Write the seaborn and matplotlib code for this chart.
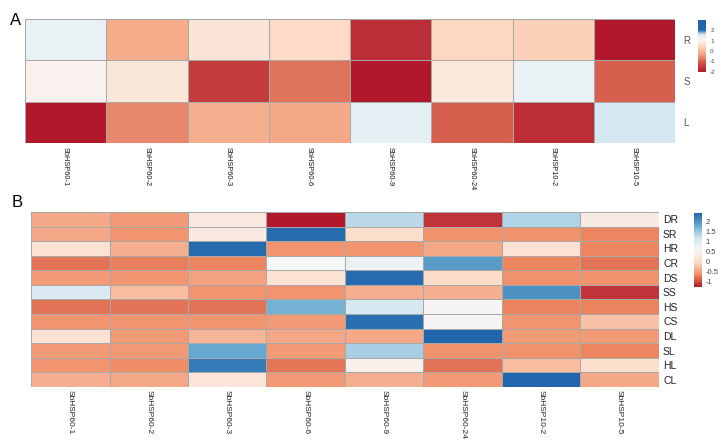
import numpy as np
import pandas as pd
import matplotlib
matplotlib.use("Agg")
import matplotlib.pyplot as plt
import seaborn as sns
from matplotlib.colors import LinearSegmentedColormap

genes = ["SbHSP60-1", "SbHSP60-2", "SbHSP60-3", "SbHSP60-6",
         "SbHSP60-9", "SbHSP60-24", "SbHSP10-2", "SbHSP10-5"]

# Panel A: tissues
tissues = ["R", "S", "L"]
val_R = [1.3, -0.2, 0.7, 0.5, -1.7, 0.45, 0.35, -2.0]
val_S = [1.0, 0.75, -1.5, -0.8, -2.0, 0.8, 1.3, -1.0]
val_L = [-2.0, -0.6, -0.15, -0.25, 1.35, -1.0, -1.7, 1.55]

# Panel B: stress x tissue
treatments = ["DR", "SR", "HR", "CR", "DS", "SS", "HS", "CS", "DL", "SL", "HL", "CL"]
val_DR = [-0.45, -0.55, 0.25, -1.3, 1.3, -1.15, 1.35, 0.3]
val_SR = [-0.45, -0.6, 0.25, 2.35, 0.0, -0.62, -0.62, -0.7]
val_HR = [0.1, -0.4, 2.35, -0.6, -0.6, -0.45, 0.1, -0.7]
val_CR = [-0.8, -0.75, -0.7, 0.6, 0.75, 1.9, -0.7, -0.8]
val_DS = [-0.55, -0.58, -0.5, 0.1, 2.35, -0.05, -0.62, -0.62]
val_SS = [1.0, -0.3, -0.6, -0.6, -0.4, -0.4, 2.0, -1.15]
val_HS = [-0.8, -0.8, -0.8, 1.7, 1.05, 0.5, -0.72, -0.72]
val_CS = [-0.6, -0.6, -0.6, -0.55, 2.3, 0.5, -0.6, -0.25]
val_DL = [0.1, -0.55, -0.35, -0.45, -0.45, 2.4, -0.55, -0.55]
val_SL = [-0.55, -0.55, 1.78, -0.55, 1.4, -0.62, -0.62, -0.7]
val_HL = [-0.6, -0.65, 2.2, -0.78, 0.4, -0.8, -0.3, 0.0]
val_CL = [-0.4, -0.45, 0.15, -0.55, -0.4, -0.55, 2.4, -0.45]

df_a = pd.DataFrame([val_R, val_S, val_L], index=tissues, columns=genes)
df_b = pd.DataFrame([val_DR, val_SR, val_HR, val_CR, val_DS, val_SS, val_HS,
                     val_CS, val_DL, val_SL, val_HL, val_CL],
                    index=treatments, columns=genes)

rdbu7 = ["#B2182B", "#EF8A62", "#FDDBC7", "#F7F7F7", "#D1E5F0", "#67A9CF", "#2166AC"]

# panel A colour bar is skewed towards red
a_min, a_max = -2.0, 2.95
a_nodes = [(-2.0, "#B2182B"), (-1.0, "#D6604D"), (-0.3, "#F4A582"), (0.5, "#FDDBC7"),
           (1.15, "#F7F7F7"), (1.6, "#D1E5F0"), (2.0, "#2166AC"), (2.95, "#2166AC")]
cmap_a = LinearSegmentedColormap.from_list(
    "a", [((v - a_min) / (a_max - a_min), c) for v, c in a_nodes])
cmap_b = LinearSegmentedColormap.from_list("b", rdbu7)

plt.rcParams["font.family"] = ["Liberation Sans", "DejaVu Sans"]

fig = plt.figure(figsize=(7.25, 4.4), dpi=100)

ax_a = fig.add_axes([0.0345, 0.675, 0.8966, 0.2818])
cax_a = fig.add_axes([0.9628, 0.8364, 0.011, 0.118])
ax_b = fig.add_axes([0.0428, 0.1205, 0.866, 0.3977])
cax_b = fig.add_axes([0.957, 0.3477, 0.011, 0.168])

sns.heatmap(df_a, ax=ax_a, cmap=cmap_a, vmin=a_min, vmax=a_max,
            linewidths=0.6, linecolor="#A8A8A8", cbar_ax=cax_a,
            xticklabels=True, yticklabels=True)
sns.heatmap(df_b, ax=ax_b, cmap=cmap_b, vmin=-1.3, vmax=2.4,
            linewidths=0.6, linecolor="#A8A8A8", cbar_ax=cax_b,
            xticklabels=True, yticklabels=True)

ax_a.tick_params(length=0)
ax_a.yaxis.tick_right()
ax_a.set_xticklabels(ax_a.get_xticklabels(), rotation=-90, fontsize=5.3, color="#111111")
ax_a.set_yticklabels(ax_a.get_yticklabels(), rotation=0, fontsize=7, color="#555555")
ax_a.tick_params(axis="x", pad=3)
ax_a.tick_params(axis="y", pad=6)

ax_b.tick_params(length=0)
ax_b.yaxis.tick_right()
ax_b.set_xticklabels(ax_b.get_xticklabels(), rotation=-90, fontsize=6, color="#222222")
ax_b.set_yticklabels(ax_b.get_yticklabels(), rotation=0, fontsize=7.5, color="#222222")
ax_b.tick_params(axis="x", pad=2)
ax_b.tick_params(axis="y", pad=3)

for ax in (ax_a, ax_b):
    ax.set_xlabel("")
    ax.set_ylabel("")

cax_a.set_ylim(-2.0, 2.95)
cax_a.set_yticks([2, 1, 0, -1, -2])
cax_a.set_yticklabels(["2", "1", "0", "-1", "-2"])
cax_b.set_yticks([2, 1.5, 1, 0.5, 0, -0.5, -1])
cax_b.set_yticklabels(["2", "1.5", "1", "0.5", "0", "-0.5", "-1"])
for cax, fs in [(cax_a, 4.5), (cax_b, 5.5)]:
    cax.tick_params(length=0, labelsize=fs, pad=3, colors="#444444")
    for s in cax.spines.values():
        s.set_visible(False)

fig.text(10 / 725, 1 - 25 / 440, "A", fontsize=12)
fig.text(12 / 725, 1 - 207 / 440, "B", fontsize=12)

fig.savefig("out.png", dpi=100)
